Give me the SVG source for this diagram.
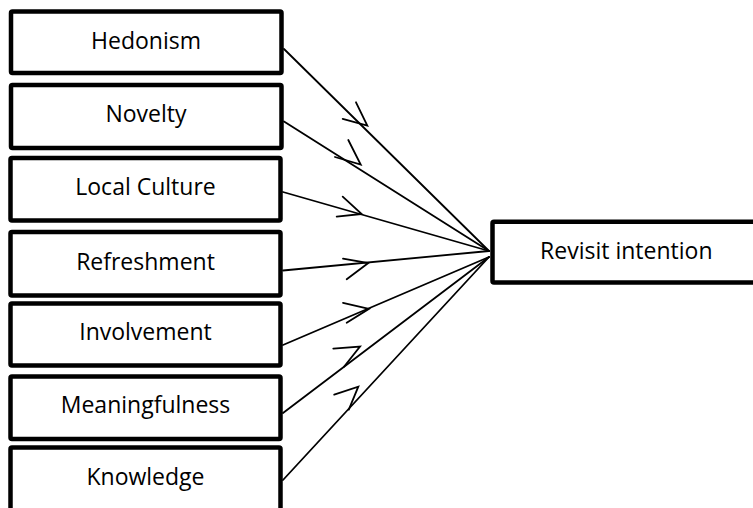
<svg xmlns="http://www.w3.org/2000/svg" width="753" height="508" viewBox="0 0 753 508">
<style>
.box{fill:#fff;stroke:#000;stroke-width:4.5}
.lbl{font-family:"Open Sans","Liberation Sans",sans-serif;font-size:23px;fill:#000;text-anchor:middle}
.ln{fill:none;stroke:#000;stroke-width:1.8;stroke-linecap:round;stroke-linejoin:miter}
</style>
<rect width="753" height="508" fill="#fff"/>
<g id="connectors">
<line class="ln" x1="284" y1="49" x2="489" y2="251"/>
<line class="ln" x1="284" y1="121.5" x2="489" y2="251"/>
<line class="ln" x1="283" y1="192" x2="489" y2="251"/>
<line class="ln" x1="283" y1="270.5" x2="489" y2="251"/>
<line class="ln" x1="283" y1="345" x2="489" y2="257"/>
<line class="ln" x1="283" y1="413" x2="489" y2="257"/>
<line class="ln" x1="283" y1="480" x2="489" y2="257"/>
<polyline class="ln" points="356,102.3 367.3,125.5 342.7,118.8"/>
<polyline class="ln" points="348.3,140 360.7,164.5 335,157"/>
<polyline class="ln" points="342.7,196.7 361.7,214 336.7,216.7"/>
<polyline class="ln" points="343,258.7 368.3,263 346.7,279.2"/>
<polyline class="ln" points="343,302.8 369,308.8 346.7,322.8"/>
<polyline class="ln" points="333.3,348.7 360,346.5 344,366.7"/>
<polyline class="ln" points="334.2,394.7 358.3,386.7 348.8,409.6"/>
</g>
<g id="hedonism"><rect class="box" x="11" y="11.5" width="270.5" height="61.5" rx="1.5"/><text class="lbl" x="146" y="49.3">Hedonism</text></g>
<g id="novelty"><rect class="box" x="11" y="85" width="270.5" height="63" rx="1.5"/><text class="lbl" x="146" y="121.5">Novelty</text></g>
<g id="local-culture"><rect class="box" x="10.5" y="158" width="270" height="62.5" rx="1.5"/><text class="lbl" x="145.5" y="195">Local Culture</text></g>
<g id="refreshment"><rect class="box" x="10.5" y="232" width="270" height="63.5" rx="1.5"/><text class="lbl" x="145.5" y="270">Refreshment</text></g>
<g id="involvement"><rect class="box" x="10.5" y="303.5" width="270" height="62" rx="1.5"/><text class="lbl" x="145.5" y="340">Involvement</text></g>
<g id="meaningfulness"><rect class="box" x="10.5" y="376.5" width="270" height="62.5" rx="1.5"/><text class="lbl" x="145.5" y="413">Meaningfulness</text></g>
<g id="knowledge"><rect class="box" x="10.5" y="447.5" width="270" height="72" rx="1.5"/><text class="lbl" x="145.5" y="485">Knowledge</text></g>
<g id="revisit-intention"><rect class="box" x="492.5" y="221.7" width="268" height="60.8" rx="1.5"/><text class="lbl" x="626.3" y="259.3">Revisit intention</text></g>
</svg>
